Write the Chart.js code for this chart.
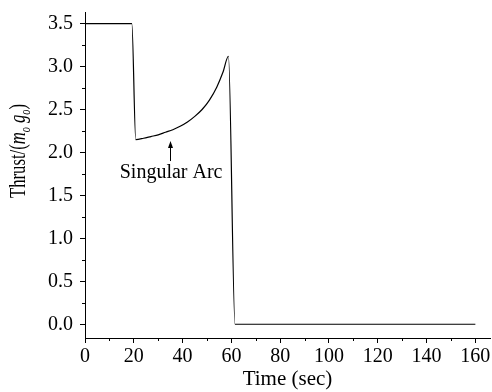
<!DOCTYPE html>
<html>
<head>
<meta charset="utf-8">
<script src="https://cdn.jsdelivr.net/npm/chart.js@4.4.0/dist/chart.umd.min.js"></script>
<style>
  html, body { margin: 0; padding: 0; background: #fff; }
  #wrap { width: 492px; height: 392px; }
</style>
</head>
<body>
<div id="wrap"><canvas id="myChart" width="492" height="392"></canvas></div>
<script>
// thrust profile (time in sec, thrust / (m_o g_o))
const timeSec = [0, 19.2, 20.8, 24, 27, 30, 33, 36, 39, 42, 45, 48, 51, 54, 56.5, 58.8, 61.5, 80, 120, 160];
const thrust  = [3.5, 3.5, 2.15, 2.165, 2.185, 2.205, 2.235, 2.265, 2.305, 2.355, 2.42, 2.50, 2.61, 2.76, 2.93, 3.12, 0, 0, 0, 0];

const xTicks = [0, 20, 40, 60, 80, 100, 120, 140, 160];
const yTicks = [0, 0.5, 1.0, 1.5, 2.0, 2.5, 3.0, 3.5];

const fontFam = '"Liberation Serif", "DejaVu Serif", serif';

// minor ticks, the y title with subscripts, and the arrow + label
const extras = {
  id: 'extras',
  afterDraw(chart) {
    const ctx = chart.ctx;
    const xs = chart.scales.x, ys = chart.scales.y;
    const area = chart.chartArea;
    ctx.save();
    ctx.strokeStyle = '#000';
    ctx.lineWidth = 1;
    // minor ticks
    for (let v = 10; v < 166; v += 20) {
      const px = Math.round(xs.getPixelForValue(v)) + 0.5;
      ctx.beginPath();
      ctx.moveTo(px, area.bottom);
      ctx.lineTo(px, area.bottom + 3);
      ctx.stroke();
    }
    for (let v = 0.25; v < 3.6; v += 0.5) {
      const py = Math.round(ys.getPixelForValue(v)) + 0.5;
      ctx.beginPath();
      ctx.moveTo(area.left, py);
      ctx.lineTo(area.left - 3, py);
      ctx.stroke();
    }

    // arrow pointing at the singular arc
    const ax = Math.round(xs.getPixelForValue(34.8)) + 0.5;
    const yTip = ys.getPixelForValue(2.134);
    const yBase = ys.getPixelForValue(1.9);
    ctx.beginPath();
    ctx.moveTo(ax, yBase);
    ctx.lineTo(ax, yTip + 4);
    ctx.stroke();
    ctx.fillStyle = '#000';
    ctx.beginPath();
    ctx.moveTo(ax, yTip);
    ctx.lineTo(ax - 2.5, yTip + 7);
    ctx.lineTo(ax + 2.5, yTip + 7);
    ctx.closePath();
    ctx.fill();

    ctx.font = '20px ' + fontFam;
    ctx.textAlign = 'center';
    ctx.textBaseline = 'middle';
    ctx.fillText('Singular Arc', xs.getPixelForValue(35.3), ys.getPixelForValue(1.76));

    // y axis title: Thrust/(m_o g_o), squeezed along its length like the source
    ctx.translate(18, 151);
    ctx.rotate(-Math.PI / 2);
    ctx.textAlign = 'left';
    ctx.textBaseline = 'alphabetic';
    const parts = [
      ['Thrust/(', '23px', 'normal', 0],
      ['m', '23px', 'italic', 0],
      ['o', '14px', 'italic', 5],
      [' g', '23px', 'italic', 0],
      ['o', '14px', 'italic', 5],
      [')', '23px', 'normal', 0]
    ];
    let total = 0;
    parts.forEach(p => {
      ctx.font = p[2] + ' ' + p[1] + ' ' + fontFam;
      total += ctx.measureText(p[0]).width;
    });
    ctx.scale(94 / total, 1);
    let cx = -total / 2;
    parts.forEach(p => {
      ctx.font = p[2] + ' ' + p[1] + ' ' + fontFam;
      ctx.fillText(p[0], cx, 7 + p[3]);
      cx += ctx.measureText(p[0]).width;
    });
    ctx.restore();
  }
};

const data = {
  datasets: [{
    data: timeSec.map((t, i) => ({ x: t, y: thrust[i] })),
    borderColor: '#000',
    borderWidth: 1.2,
    pointRadius: 0,
    fill: false,
    cubicInterpolationMode: 'monotone'
  }]
};

const config = {
  type: 'line',
  data: data,
  options: {
    responsive: false,
    animation: false,
    layout: { padding: { top: 12, right: 2, left: 0, bottom: 0 } },
    plugins: { legend: { display: false }, tooltip: { enabled: false } },
    scales: {
      x: {
        type: 'linear',
        min: 0,
        max: 166,
        afterBuildTicks: s => { s.ticks = xTicks.map(v => ({ value: v })); },
        afterFit: s => { s.height = 54; s.paddingLeft = 0; s.paddingRight = 0; },
        border: { display: true, color: '#000', width: 1 },
        grid: { drawOnChartArea: false, drawTicks: true, tickLength: 5, color: '#000' },
        ticks: { color: '#000', font: { family: fontFam, size: 20 }, padding: 2, maxRotation: 0 },
        title: { display: true, text: 'Time (sec)', color: '#000', font: { family: fontFam, size: 21 }, padding: { top: 3, bottom: 0 } }
      },
      y: {
        min: -0.16,
        max: 3.635,
        afterBuildTicks: s => { s.ticks = yTicks.map(v => ({ value: v })); },
        afterFit: s => { s.width = 85; s.paddingTop = 0; s.paddingBottom = 0; },
        border: { display: true, color: '#000', width: 1 },
        grid: { drawOnChartArea: false, drawTicks: true, tickLength: 5, color: '#000' },
        ticks: { color: '#000', font: { family: fontFam, size: 20 }, padding: 7, callback: v => v.toFixed(1) }
      }
    }
  },
  plugins: [extras]
};

var myChartJS = new Chart(document.getElementById('myChart'), config);
</script>
</body>
</html>
